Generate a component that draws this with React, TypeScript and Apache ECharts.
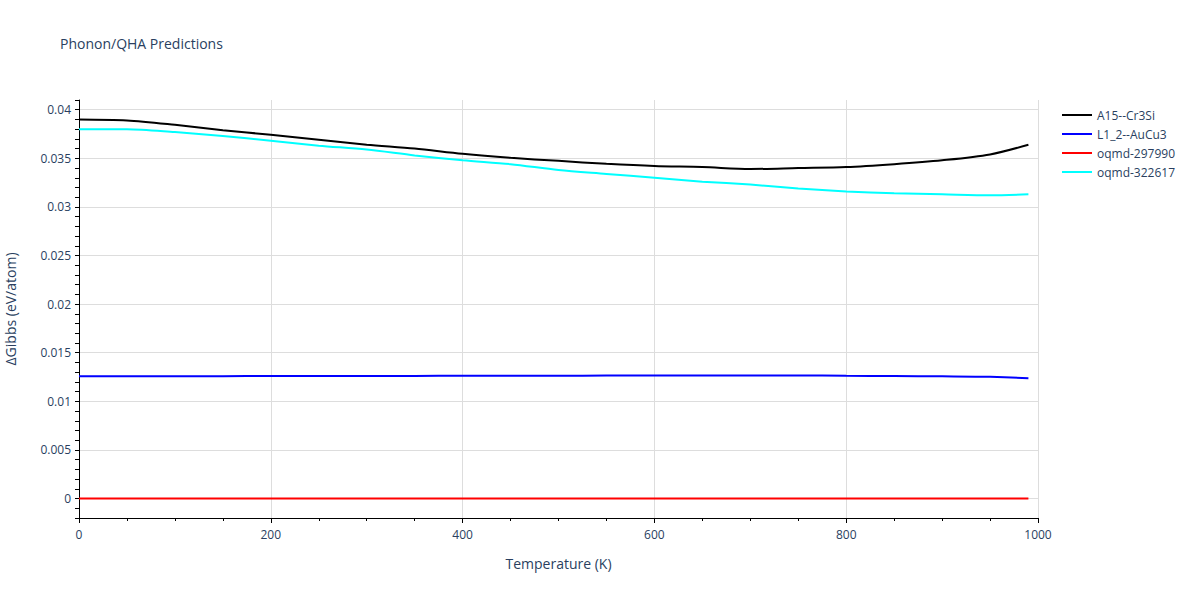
import React, { useEffect, useRef } from "react";
import * as echarts from "echarts";

const temps = [0, 50, 100, 150, 200, 250, 300, 350, 400, 450, 500, 550, 600, 650, 700, 750, 800, 850, 900, 950, 990];
const a15 = [0.0390, 0.0389, 0.03845, 0.0379, 0.03742, 0.0369, 0.0364, 0.0360, 0.03546, 0.03505, 0.03474, 0.03443, 0.0342, 0.0341, 0.0339, 0.0340, 0.0341, 0.0344, 0.0348, 0.0354, 0.0364];
const l12 = [0.01258, 0.01258, 0.01259, 0.01259, 0.0126, 0.0126, 0.01261, 0.01262, 0.01263, 0.01264, 0.01264, 0.01265, 0.01266, 0.01266, 0.01267, 0.01267, 0.01263, 0.0126, 0.01257, 0.01252, 0.01237];
const oqmd297990 = [0, 0, 0, 0, 0, 0, 0, 0, 0, 0, 0, 0, 0, 0, 0, 0, 0, 0, 0, 0, 0];
const oqmd322617 = [0.0380, 0.0380, 0.0377, 0.0373, 0.0368, 0.0363, 0.0359, 0.0353, 0.0348, 0.0344, 0.0338, 0.0334, 0.0330, 0.0326, 0.0323, 0.0319, 0.0316, 0.0314, 0.0313, 0.0312, 0.0313];

const seriesNames = ["A15--Cr3Si", "L1_2--AuCu3", "oqmd-297990", "oqmd-322617"];
const seriesData = [a15, l12, oqmd297990, oqmd322617];
const colors = ["#000000", "#0000ff", "#ff0000", "#00ffff"];

const font = "'Open Sans', 'Noto Sans', sans-serif";
const textColor = "#2a3f5f";

export default function App() {
  const ref = useRef<HTMLDivElement>(null);
  useEffect(() => {
    if (!ref.current) return;
    const chart = echarts.init(ref.current, undefined, { renderer: "svg" });
    chart.setOption({
      animation: false,
      backgroundColor: "#ffffff",
      title: {
        text: "Phonon/QHA Predictions",
        left: 55,
        top: 31,
        textStyle: { fontFamily: font, fontSize: 14, fontWeight: "normal", color: textColor },
      },
      legend: {
        orient: "vertical",
        left: 1057,
        top: 104,
        itemWidth: 30,
        itemHeight: 2,
        itemGap: 7,
        icon: "rect",
        textStyle: { fontFamily: font, fontSize: 12, color: textColor },
        data: seriesNames,
      },
      grid: { left: 79, right: 162, top: 100, bottom: 82, containLabel: false, outerBoundsMode: "none" },
      xAxis: {
        type: "value",
        min: 0,
        max: 1000,
        interval: 200,
        name: "Temperature (K)",
        nameLocation: "middle",
        nameGap: 38,
        nameTextStyle: { fontFamily: font, fontSize: 14, color: textColor },
        axisLine: { show: true, onZero: false, lineStyle: { color: "#000", width: 1 } },
        axisTick: { show: true, length: 5, lineStyle: { color: "#000" } },
        minorTick: { show: true, splitNumber: 4, length: 3, lineStyle: { color: "#000" } },
        axisLabel: { fontFamily: font, fontSize: 12, color: textColor, margin: 10, formatter: (v: number) => String(v) },
        splitLine: { show: true, lineStyle: { color: "#dddddd", width: 1 } },
      },
      yAxis: {
        type: "value",
        min: -0.002,
        max: 0.041,
        interval: 0.001,
        name: "ΔGibbs (eV/atom)",
        nameLocation: "middle",
        nameGap: 62,
        nameTextStyle: { fontFamily: font, fontSize: 14, color: textColor },
        axisLine: { show: true, onZero: false, lineStyle: { color: "#000", width: 1 } },
        axisTick: { show: true, length: 4, lineStyle: { color: "#000" } },
        axisLabel: {
          fontFamily: font,
          fontSize: 12,
          color: textColor,
          margin: 8,
          showMinLabel: true,
          showMaxLabel: true,
          formatter: (v: number) => {
            const m = Math.round(v * 1000);
            if (m % 5 !== 0) return "";
            return String(m / 1000);
          },
        },
        splitLine: {
          show: true,
          lineStyle: { color: ["rgba(0,0,0,0)", "rgba(0,0,0,0)", "#dddddd", "rgba(0,0,0,0)", "rgba(0,0,0,0)"], width: 1 },
        },
      },
      series: seriesNames.map((name, i) => ({
        name,
        type: "line",
        data: temps.map((t, j) => [t, seriesData[i][j]]),
        showSymbol: false,
        smooth: 0.3,
        lineStyle: { color: colors[i], width: 2 },
        itemStyle: { color: colors[i] },
      })),
    });
    return () => chart.dispose();
  }, []);
  return <div ref={ref} style={{ width: 1200, height: 600, position: "absolute", left: 0, top: 0 }} />;
}
